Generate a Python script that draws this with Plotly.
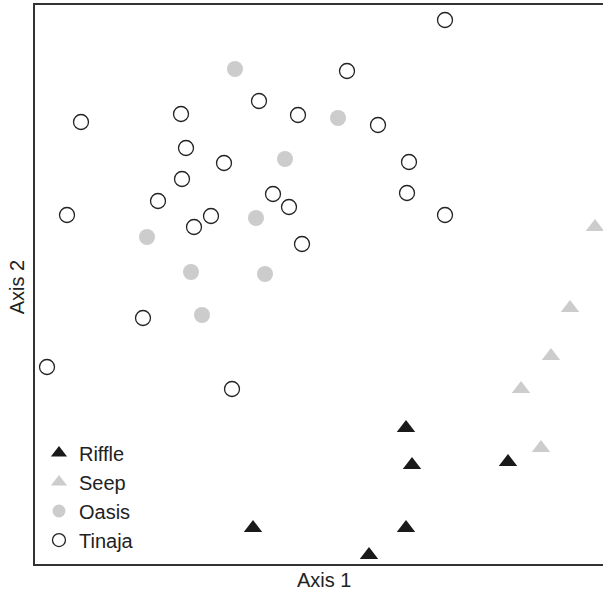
import plotly.graph_objects as go

# Ordination scores
riffle_x = [3.71, 3.77, 4.73, 3.71, 2.18, 3.34]
riffle_y = [1.36, 0.99, 1.02, 0.36, 0.36, 0.09]

seep_x = [5.60, 5.35, 5.16, 4.86, 5.06]
seep_y = [3.37, 2.56, 2.08, 1.75, 1.16]

oasis_x = [2.00, 3.03, 2.50, 1.12, 2.21, 1.56, 2.30, 1.67]
oasis_y = [4.95, 4.46, 4.05, 3.27, 3.46, 2.92, 2.90, 2.49]

tinaja_x = [4.10, 3.12, 1.46, 2.24, 2.63, 3.43, 0.46, 1.51, 1.89, 3.74, 1.47, 2.38,
            3.72, 1.23, 2.54, 1.76, 1.59, 0.32, 4.10, 2.67, 1.08, 0.12, 1.97]
tinaja_y = [5.44, 4.93, 4.50, 4.63, 4.49, 4.39, 4.42, 4.16, 4.01, 4.02, 3.85, 3.70,
            3.71, 3.63, 3.57, 3.48, 3.37, 3.49, 3.49, 3.20, 2.46, 1.97, 1.75]

x_range = [0, 5.68]
y_range = [0, 5.59]

DARK = "#1a1a1a"
GREY = "#cccccc"
LINE = "#333333"
FONT = "Liberation Sans, Arial, Helvetica, sans-serif"

groups = [
    ("Riffle", riffle_x, riffle_y, dict(symbol="triangle-up", color=DARK, size=16)),
    ("Seep", seep_x, seep_y, dict(symbol="triangle-up", color=GREY, size=16)),
    ("Oasis", oasis_x, oasis_y, dict(symbol="circle", color=GREY, size=16)),
    ("Tinaja", tinaja_x, tinaja_y, dict(symbol="circle-open", color="#222222", size=15,
                                          line=dict(width=1.3, color="#222222"))),
]

fig = go.Figure()
for name, xs, ys, mk in groups:
    fig.add_trace(go.Scatter(x=xs, y=ys, mode="markers", name=name,
                             marker=mk, showlegend=False, cliponaxis=False,
                             hoverinfo="skip"))

# legend entries (slightly smaller symbols, as in the reference legend)
for name, xs, ys, mk in groups:
    lm = dict(mk)
    lm["size"] = 14 if "triangle" in mk["symbol"] else 13
    fig.add_trace(go.Scatter(x=[None], y=[None], mode="markers", name=name,
                             marker=lm, showlegend=True))

fig.update_layout(
    width=603, height=593,
    margin=dict(l=35, r=0, t=5, b=29),
    paper_bgcolor="white", plot_bgcolor="white",
    font=dict(family=FONT, size=20, color="#222222"),
    showlegend=True,
    legend=dict(x=0.007, y=0.008, xanchor="left", yanchor="bottom",
                bgcolor="rgba(0,0,0,0)", borderwidth=0,
                font=dict(family=FONT, size=20, color="#222222")),
    xaxis=dict(range=x_range, showgrid=False, zeroline=False, showticklabels=False,
               ticks="", showline=True, linecolor=LINE, linewidth=2, mirror=True),
    yaxis=dict(range=y_range, showgrid=False, zeroline=False, showticklabels=False,
               ticks="", showline=True, linecolor=LINE, linewidth=2, mirror=False),
    annotations=[
        dict(text="Axis 1", xref="paper", yref="paper", x=0.509, y=0,
             yshift=-16, showarrow=False, xanchor="center", yanchor="middle",
             font=dict(family=FONT, size=20, color="#222222")),
        dict(text="Axis 2", xref="paper", yref="paper", x=0, y=0.495,
             xshift=-18, showarrow=False, textangle=-90, xanchor="center",
             yanchor="middle", font=dict(family=FONT, size=20, color="#222222")),
    ],
)

fig.write_html("out.html", config={"displayModeBar": False},
               post_script="document.body.style.margin='0';document.body.style.overflow='hidden';")
